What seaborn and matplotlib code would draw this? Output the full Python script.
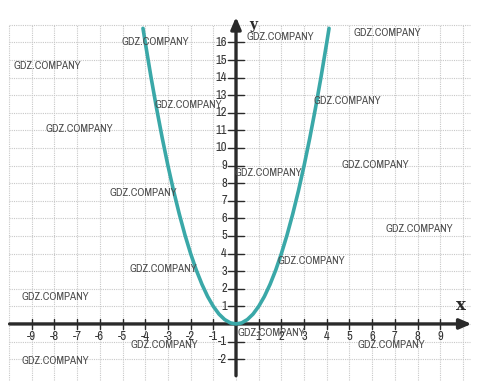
import matplotlib
matplotlib.use("Agg")
import matplotlib.pyplot as plt
from matplotlib import font_manager
import seaborn as sns
import pandas as pd

# ---- data ----
curve_x = [-4.1, -4.0, -3.75, -3.5, -3.25, -3.0, -2.75, -2.5, -2.25, -2.0, -1.75, -1.5,
           -1.25, -1.0, -0.75, -0.5, -0.25, 0.0, 0.25, 0.5, 0.75, 1.0, 1.25, 1.5, 1.75,
           2.0, 2.25, 2.5, 2.75, 3.0, 3.25, 3.5, 3.75, 4.0, 4.1]
curve_y = [16.8, 16.0, 14.06, 12.25, 10.56, 9.0, 7.56, 6.25, 5.06, 4.0, 3.06, 2.25,
           1.56, 1.0, 0.56, 0.25, 0.06, 0.0, 0.06, 0.25, 0.56, 1.0, 1.56, 2.25, 3.06,
           4.0, 5.06, 6.25, 7.56, 9.0, 10.56, 12.25, 14.06, 16.0, 16.8]
x_ticks = [-9, -8, -7, -6, -5, -4, -3, -2, -1, 1, 2, 3, 4, 5, 6, 7, 8, 9]
y_ticks = [-2, -1, 1, 2, 3, 4, 5, 6, 7, 8, 9, 10, 11, 12, 13, 14, 15, 16]
watermark = "GDZ.COMPANY"
# watermark centres in figure pixels
wm_px = [(155, 42), (47, 66), (280, 37), (387, 33), (188, 105), (79, 129), (347, 101),
         (143, 193), (268, 173), (375, 165), (419, 229), (163, 269), (311, 261),
         (55, 297), (271, 333), (164, 345), (391, 345), (55, 361)]

sns.set_style("white")

# pick a condensed / narrow face if one is installed
narrow = None
for f in font_manager.fontManager.ttflist:
    n = f.name
    if ("Narrow" in n or "Condensed" in n) and f.style == "normal" and f.weight in (400, "normal", "regular"):
        narrow = n
        break
fam = [narrow, "DejaVu Sans"] if narrow else ["DejaVu Sans"]
plt.rcParams['font.family'] = fam
cond_stretch = "normal" if narrow else "condensed"

W, H = 482, 388
fig = plt.figure(figsize=(W / 100, H / 100), dpi=100)
ax = fig.add_axes([0, 0, 1, 1])

# grid
for gx in range(-10, 11):
    ax.plot([gx, gx], [-3.2, 17], color="#c8c8c8", lw=0.8, ls=(0, (1, 1)), zorder=1)
for gy in range(-2, 18):
    ax.plot([-10, 10.3], [gy, gy], color="#c8c8c8", lw=0.8, ls=(0, (1, 1)), zorder=1)

# axes with arrows
axc = "#2a2a2a"
ax.annotate("", xy=(10.5, 0), xytext=(-10.1, 0),
            arrowprops=dict(arrowstyle="-|>,head_length=0.7,head_width=0.3", color=axc, lw=2.4),
            zorder=3)
ax.annotate("", xy=(0, 17.6), xytext=(0, -3.1),
            arrowprops=dict(arrowstyle="-|>,head_length=0.7,head_width=0.3", color=axc, lw=2.4),
            zorder=3)

# ticks
for t in x_ticks:
    ax.plot([t, t], [-0.3, 0.3], color=axc, lw=1.0, zorder=3)
    ax.text(t, -0.4, str(t), ha="center", va="top", fontsize=9, color="#333333",
            fontstretch=cond_stretch, zorder=4)
for t in y_ticks:
    ax.plot([-0.35, 0.35], [t, t], color=axc, lw=1.0, zorder=3)
    ax.text(-0.4, t, str(t), ha="right", va="center", fontsize=9, color="#333333",
            fontstretch=cond_stretch, zorder=4)

ax.text(9.9, 0.55, "x", fontsize=12, fontweight="bold", family="DejaVu Serif",
        ha="center", va="bottom", color=axc, zorder=4)
ax.text(0.75, 16.6, "y", fontsize=10, fontweight="bold", family="DejaVu Serif",
        ha="center", va="bottom", color=axc, zorder=4)

# curve
df = pd.DataFrame({"x": curve_x, "y": curve_y})
sns.lineplot(data=df, x="x", y="y", ax=ax, color="#3aa8a8", lw=2.6, sort=False, zorder=5)
ax.set_xlim(-10.4, 10.84)
ax.set_ylim(-3.64, 18.41)
ax.axis("off")

# watermarks
for px, py in wm_px:
    fig.text(px / W, 1 - py / H, watermark, ha="center", va="center", fontsize=8,
             color="#4a4a4a", fontstretch=cond_stretch, zorder=6)

fig.savefig("out.png", dpi=100)
